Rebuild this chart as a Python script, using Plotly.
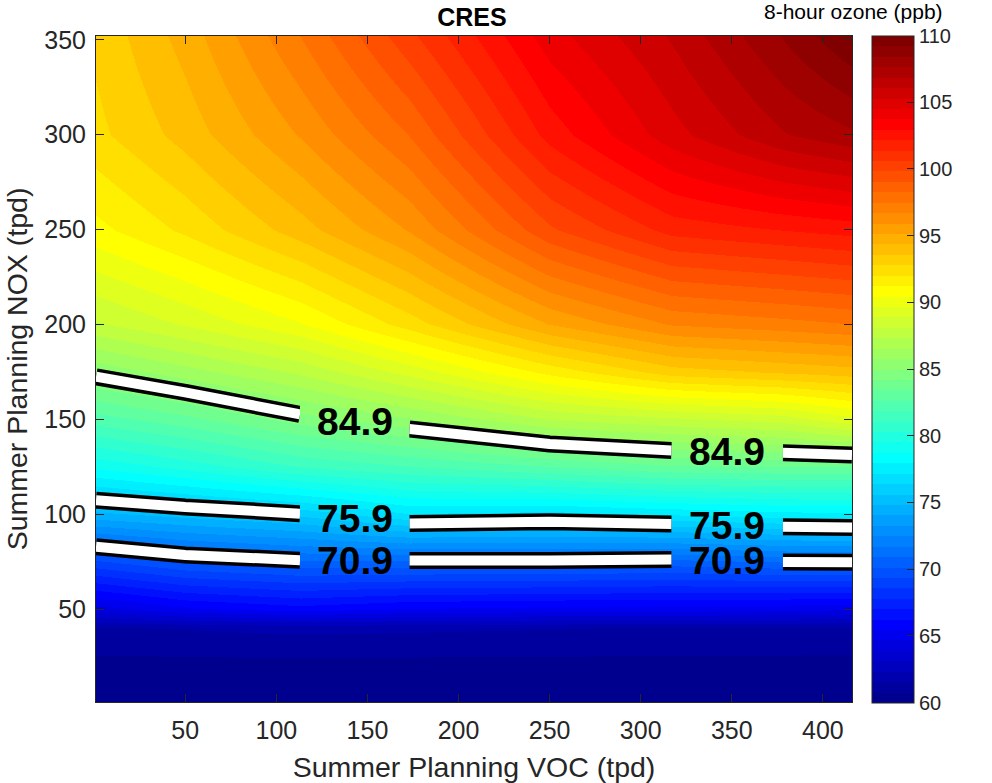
import numpy as np
import plotly.graph_objects as go

# Summer planning emissions grid (tpd) and modelled 8-hour ozone (ppb)
voc = [1, 50, 113, 173, 250, 317, 378, 416]
nox = [1, 20, 40, 50, 75, 100, 125, 150, 175, 200, 250, 300, 352]

ozone = [
    [60.2, 60.2, 60.2, 60.2, 60.2, 60.2, 60.2, 60.2],
    [60.5, 60.5, 60.5, 60.5, 60.5, 60.5, 60.5, 60.5],
    [61.5, 61.6, 61.8, 61.7, 61.6, 61.5, 61.5, 61.4],
    [64.3, 65.3, 65.9, 65.4, 65.2, 65.1, 65.0, 64.8],
    [69.2, 70.2, 70.75, 70.75, 70.75, 70.6, 70.95, 71.0],
    [74.65, 75.2, 75.85, 77.15, 76.9, 77.3, 77.7, 77.8],
    [78.9, 79.8, 81.1, 81.8, 82.6, 83.3, 83.4, 83.4],
    [82.3, 83.2, 84.6, 85.7, 87.4, 88.0, 88.5, 89.5],
    [85.2, 86.2, 87.5, 89.2, 91.5, 93.2, 93.7, 94.0],
    [88.0, 89.0, 90.4, 92.4, 95.2, 96.8, 97.2, 97.5],
    [91.0, 92.2, 94.0, 96.0, 99.7, 101.7, 102.2, 102.5],
    [92.6, 93.9, 96.0, 98.3, 102.5, 105.0, 106.8, 107.5],
    [93.0, 94.7, 97.5, 100.4, 104.2, 106.2, 108.5, 110.0],
]

# Highlighted ozone levels and the VOC column groups the lines run through
levels = [70.9, 75.9, 84.9]
line_segments = [[0, 1, 2], [3, 4, 5], [6, 7]]

zmin, zmax = 60, 110
cb_ticks = [60, 65, 70, 75, 80, 85, 90, 95, 100, 105, 110]
x_ticks = [50, 100, 150, 200, 250, 300, 350, 400]
y_ticks = [50, 100, 150, 200, 250, 300, 350]

FONT = "Liberation Sans, Arial, sans-serif"
INK = "#262626"

# Figure size and plot box in pixels
W, H = 992, 783
L, R, T, B = 96, 852, 36, 702


def px_to_paper_x(px):
    return (px - L) / (R - L)


def px_to_paper_y(py):
    return (B - py) / (B - T)


def jet(m=64):
    """MATLAB-style jet colormap with m entries."""
    n = int(np.ceil(m / 4))
    u = np.concatenate([np.arange(1, n + 1) / n, np.ones(n - 1), np.arange(n, 0, -1) / n])
    g = int(np.ceil(n / 2)) - (1 if m % 4 == 1 else 0) + np.arange(1, len(u) + 1)
    r = g + n
    b = g - n
    cmap = np.zeros((m, 3))
    for ch, idx in enumerate((r, g, b)):
        ok = (idx >= 1) & (idx <= m)
        cmap[idx[ok] - 1, ch] = u[ok]
    return cmap


cmap = jet(64)
colorscale = []
for k, (cr, cg, cb) in enumerate(cmap):
    col = f"rgb({round(cr * 255)},{round(cg * 255)},{round(cb * 255)})"
    colorscale.append([k / 64, col])
    colorscale.append([(k + 1) / 64, col])

z = np.array(ozone)
xv = np.array(voc, dtype=float)
yv = np.array(nox, dtype=float)

fig = go.Figure()

fig.add_trace(go.Heatmap(
    x=voc, y=nox, z=ozone,
    zmin=zmin, zmax=zmax, zsmooth="best",
    colorscale=colorscale,
    hoverinfo="skip",
    colorbar=dict(
        x=px_to_paper_x(872), xanchor="left", xpad=0,
        y=0.5, yanchor="middle", ypad=0,
        thickness=42, thicknessmode="pixels",
        len=667, lenmode="pixels",
        outlinewidth=1, outlinecolor=INK,
        tickvals=cb_ticks, ticks="inside", ticklen=7, tickcolor=INK,
        tickprefix="\u00a0\u00a0",
        tickfont=dict(family=FONT, size=20, color=INK),
    ),
))

# Level lines: black casing underneath, white core on top
for width, color in ((17, "black"), (10, "white")):
    for lvl in levels:
        for cols in line_segments:
            fig.add_trace(go.Contour(
                x=[voc[c] for c in cols], y=nox, z=z[:, cols].tolist(),
                autocontour=False,
                contours=dict(start=lvl, end=lvl, size=1, coloring="none"),
                line=dict(color=color, width=width, smoothing=0),
                showscale=False, hoverinfo="skip", showlegend=False,
            ))


def crossing(col, lvl):
    """NOX value where a VOC column of the grid reaches the given ozone level."""
    return float(np.interp(lvl, z[:, col], yv))


# Level labels sit in the gaps between line segments
annotations = []
for lvl in levels:
    for a, b in zip(line_segments[:-1], line_segments[1:]):
        left, right = a[-1], b[0]
        annotations.append(dict(
            x=(xv[left] + xv[right]) / 2,
            y=(crossing(left, lvl) + crossing(right, lvl)) / 2,
            xref="x", yref="y", text=f"{lvl:.1f}", showarrow=False,
            font=dict(family=FONT, size=39, color="black", weight="bold"),
            xanchor="center", yanchor="middle",
        ))

# Colorbar heading
annotations.append(dict(
    x=px_to_paper_x(762), y=px_to_paper_y(11), xref="paper", yref="paper",
    text="8-hour ozone (ppb)", showarrow=False,
    font=dict(family=FONT, size=21, color="black"),
    xanchor="left", yanchor="middle",
))

axis_common = dict(
    showgrid=False, zeroline=False, automargin=False,
    showline=True, linecolor=INK, linewidth=1, mirror="ticks",
    ticks="inside", ticklen=8, tickcolor=INK,
    tickfont=dict(family=FONT, size=25, color=INK),
)

fig.update_layout(
    width=W, height=H,
    margin=dict(l=L, r=W - R, t=T, b=H - B, autoexpand=False),
    paper_bgcolor="white", plot_bgcolor="white",
    title=dict(
        text="<b>CRES</b>", x=px_to_paper_x(472), xref="paper",
        y=1 - 17.5 / H, yref="container", xanchor="center", yanchor="middle",
        font=dict(family=FONT, size=25, color="black"),
    ),
    xaxis=dict(
        range=[1, 416], tickvals=x_ticks, ticklabelstandoff=6,
        title=dict(text="Summer Planning VOC (tpd)", standoff=14,
                   font=dict(family=FONT, size=28.5, color=INK)),
        **axis_common,
    ),
    yaxis=dict(
        range=[1, 352], tickvals=y_ticks, ticklabelstandoff=4,
        title=dict(text="Summer Planning NOX (tpd)", standoff=8,
                   font=dict(family=FONT, size=28.5, color=INK)),
        **axis_common,
    ),
    annotations=annotations,
)

fig.write_html("out.html")
